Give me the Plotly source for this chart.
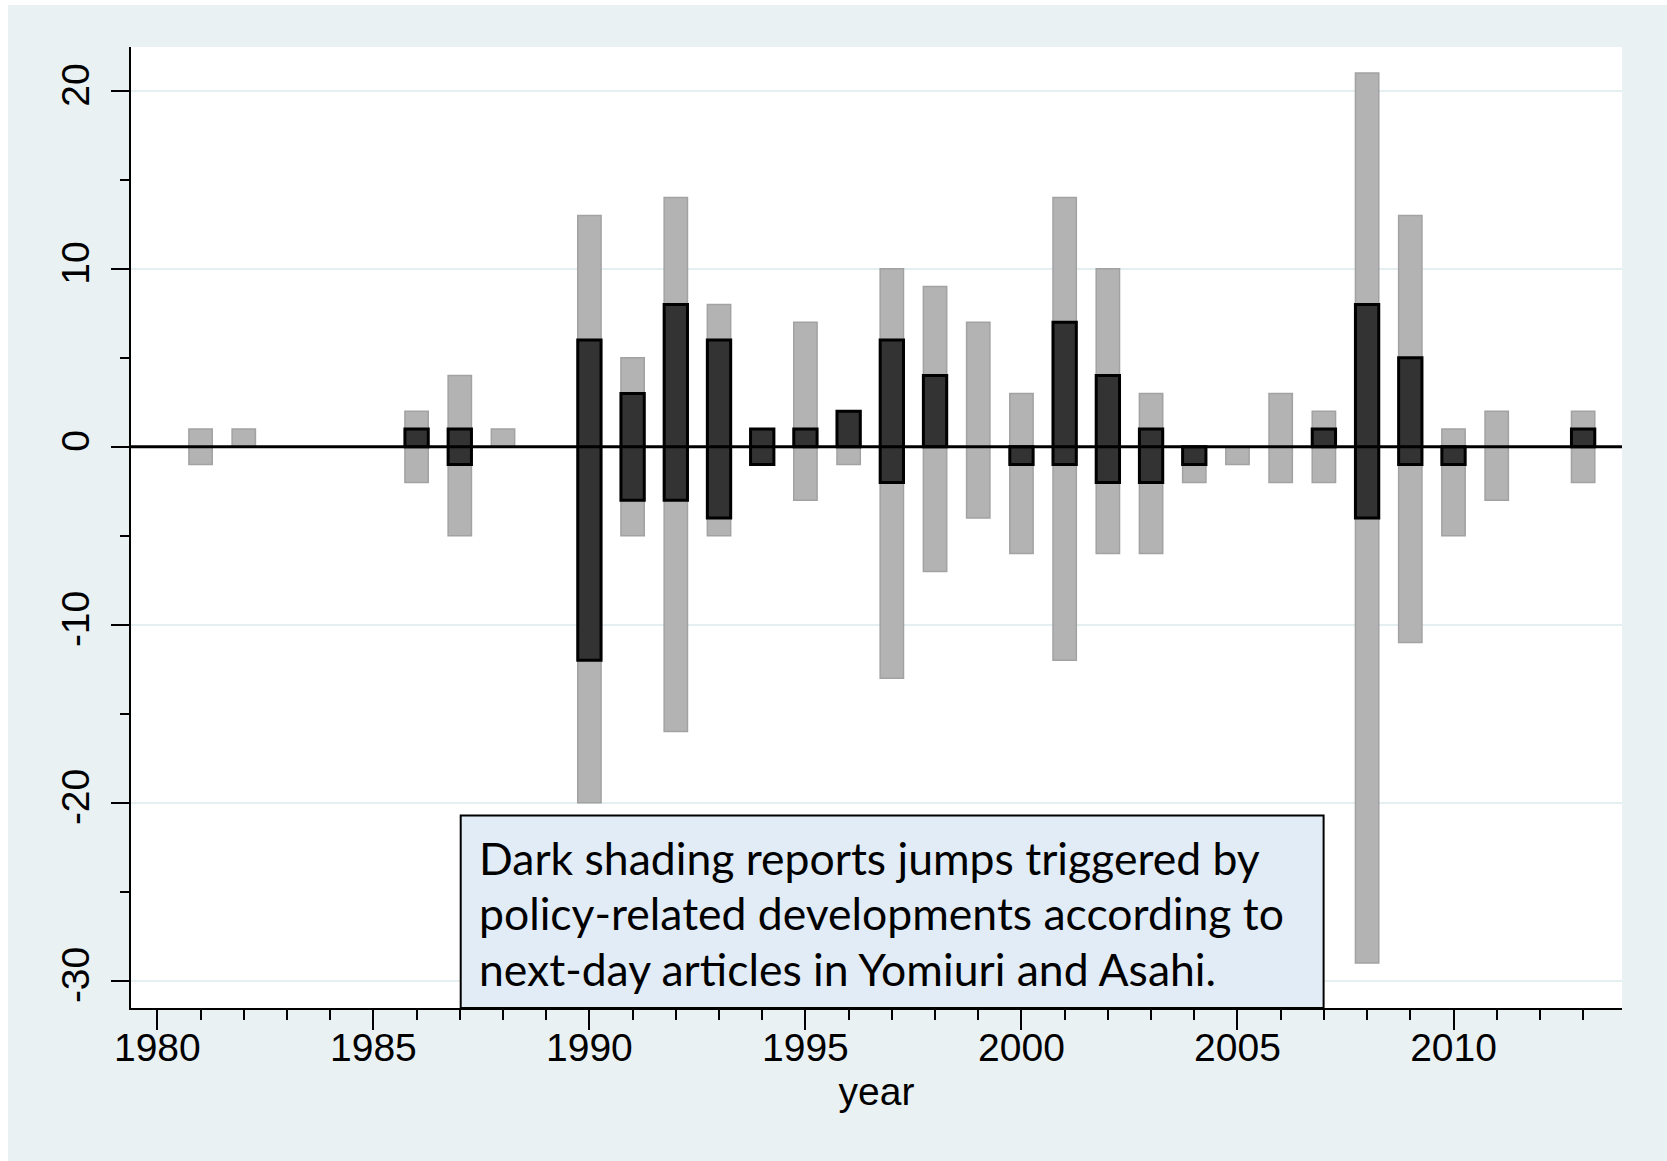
import plotly.graph_objects as go

years = [1981, 1982, 1986, 1987, 1988, 1990, 1991, 1992, 1993, 1994, 1995, 1996,
         1997, 1998, 1999, 2000, 2001, 2002, 2003, 2004, 2005, 2006, 2007, 2008,
         2009, 2010, 2011, 2013]
all_low = [-1, 0, -2, -5, 0, -20, -5, -16, -5, -1, -3, -1,
           -13, -7, -4, -6, -12, -6, -6, -2, -1, -2, -2, -29,
           -11, -5, -3, -2]
all_high = [1, 1, 2, 4, 1, 13, 5, 14, 8, 1, 7, 2,
            10, 9, 7, 3, 14, 10, 3, 0, 0, 3, 2, 21,
            13, 1, 2, 2]
policy_low = [None, None, 0, -1, None, -12, -3, -3, -4, -1, 0, 0,
              -2, 0, None, -1, -1, -2, -2, -1, None, None, 0, -4,
              -1, -1, None, 0]
policy_high = [None, None, 1, 1, None, 6, 3, 8, 6, 1, 1, 2,
               6, 4, None, 0, 7, 4, 1, 0, None, None, 1, 8,
               5, 0, None, 1]

x_ticks = [1980, 1985, 1990, 1995, 2000, 2005, 2010]
y_ticks = [-30, -20, -10, 0, 10, 20]
y_ticktext = ["-30", "-20", "-10", "0", "10", "20"]
note_lines = ["Dark shading reports jumps triggered by",
              "policy-related developments according to",
              "next-day articles in Yomiuri and Asahi."]

grey_h = [h - l for h, l in zip(all_high, all_low)]
dark_h = [None if h is None else h - l for h, l in zip(policy_high, policy_low)]

fig = go.Figure()
fig.add_trace(go.Bar(x=years, y=grey_h, base=all_low, width=0.54,
                     marker=dict(color="#b3b3b3", line=dict(color="#a2a2a2", width=1.5)),
                     showlegend=False, hoverinfo="skip"))
fig.add_trace(go.Bar(x=years, y=dark_h, base=policy_low, width=0.54,
                     marker=dict(color="#333333", line=dict(color="#000000", width=3)),
                     showlegend=False, hoverinfo="skip"))

L, R, T, B = 131, 45, 47, 153
W, H = 1667, 1161
pw, ph = W - L - R, H - T - B

def px(x):
    return (x - L) / pw

def py(y):
    return (H - B - y) / ph

bg = "#eaf1f3"

fig.update_layout(
    width=W, height=H, barmode="overlay",
    margin=dict(l=L, r=R, t=T, b=B, pad=0),
    paper_bgcolor=bg, plot_bgcolor="white",
    font=dict(family="Liberation Sans, Arial, sans-serif", size=39, color="black"),
    xaxis=dict(range=[1979.39, 2013.9], tickvals=x_ticks, ticks="outside", ticklen=20,
               tickwidth=2, tickcolor="black", showline=True, linecolor="black", linewidth=2,
               showgrid=False, zeroline=False, ticklabelstandoff=-16,
               minor=dict(dtick=1, tick0=1980, ticks="outside", ticklen=10, tickwidth=2,
                          tickcolor="black", showgrid=False),
               title=dict(text="year", standoff=10, font=dict(size=39))),
    yaxis=dict(range=[-31.53, 22.46], tickvals=y_ticks, ticktext=y_ticktext,
               ticks="outside", ticklen=18, ticklabelstandoff=6,
               tickwidth=2, tickcolor="black", tickangle=-90, showline=True, linecolor="black",
               linewidth=2, showgrid=True, gridcolor="#e5eef0", gridwidth=2, zeroline=False,
               minor=dict(dtick=5, tick0=0, ticks="outside", ticklen=9, tickwidth=2,
                          tickcolor="black", showgrid=False)),
)

shapes = [
    dict(type="line", xref="paper", yref="y", x0=0, x1=1, y0=0, y1=0,
         line=dict(color="black", width=3), layer="above"),
    dict(type="rect", xref="paper", yref="paper", x0=px(0), x1=px(W), y0=py(5), y1=py(0),
         fillcolor="white", line=dict(width=0), layer="below"),
    dict(type="rect", xref="paper", yref="paper", x0=px(0), x1=px(8), y0=py(H), y1=py(0),
         fillcolor="white", line=dict(width=0), layer="below"),
    dict(type="rect", xref="paper", yref="paper", x0=px(460.7), x1=px(1323.6),
         y0=py(1008), y1=py(815.4), fillcolor="#e2ecf6",
         line=dict(color="black", width=2), layer="above"),
]
fig.update_layout(shapes=shapes)

line_centers = [857, 912.5, 968]
for txt, yc in zip(note_lines, line_centers):
    fig.add_annotation(xref="paper", yref="paper", x=px(477), y=py(yc), text=txt,
                       showarrow=False, xanchor="left", yanchor="middle", align="left",
                       font=dict(family="Lato, Open Sans, sans-serif", size=44.5, color="black"))

fig.write_html("out.html")
